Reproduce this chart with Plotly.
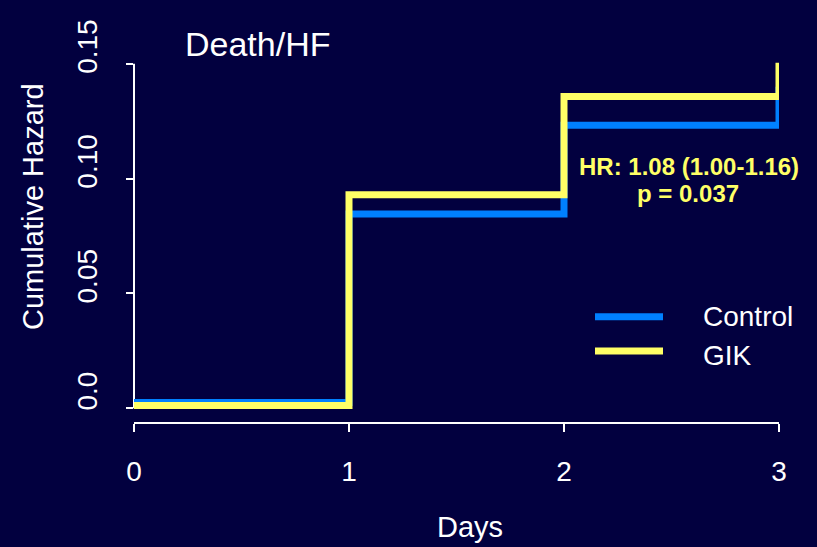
import plotly.graph_objects as go

# ---- data ----
days = [0, 1, 2, 3]
control = [0.0025, 0.0846, 0.1232, 0.140]
gik = [0.0012, 0.0930, 0.1358, 0.1505]
x_ticks = [0, 1, 2, 3]
x_tick_labels = ["0", "1", "2", "3"]
y_ticks = [0.0, 0.05, 0.10, 0.15]
y_tick_labels = ["0.0", "0.05", "0.10", "0.15"]
series_names = ["Control", "GIK"]
title_text = "Death/HF"
hr_lines = ["HR: 1.08 (1.00-1.16)", "p = 0.037"]

BG = "#02003f"
BLUE = "#0080ff"
YELLOW = "#ffff66"
WHITE = "#ffffff"
FONT = "Liberation Sans, Arial, sans-serif"

W, H = 817, 547
L, R, T, B = 134, 38, 50, 125
PW, PH = W - L - R, H - T - B


def px(xp):
    return (xp - L) / PW


def py(yp):
    return 1 - (yp - T) / PH


fig = go.Figure()
fig.add_trace(go.Scatter(x=days, y=control, mode="lines", name=series_names[0],
                         line=dict(color=BLUE, width=7, shape="hv"), showlegend=False))
fig.add_trace(go.Scatter(x=days, y=gik, mode="lines", name=series_names[1],
                         line=dict(color=YELLOW, width=7, shape="hv"), showlegend=False))

shapes = [
    # y axis line (R style, from first to last tick)
    dict(type="line", xref="paper", yref="y", x0=0, x1=0, y0=y_ticks[0], y1=y_ticks[-1],
         line=dict(color=WHITE, width=2), layer="below"),
    # legend samples
    dict(type="line", xref="paper", yref="paper", x0=px(595), x1=px(663), y0=py(316.7), y1=py(316.7),
         line=dict(color=BLUE, width=7)),
    dict(type="line", xref="paper", yref="paper", x0=px(595), x1=px(663), y0=py(351), y1=py(351),
         line=dict(color=YELLOW, width=7)),
]

annotations = [
    dict(text=title_text, xref="paper", yref="paper", x=px(258), y=py(44), showarrow=False,
         xanchor="center", yanchor="middle", font=dict(family=FONT, size=34, color=WHITE)),
    dict(text="Cumulative Hazard", xref="paper", yref="paper", x=px(33), y=py(206), showarrow=False,
         textangle=-90, xanchor="center", yanchor="middle", font=dict(family=FONT, size=29, color=WHITE)),
    dict(text="Days", xref="paper", yref="paper", x=px(470), y=py(527), showarrow=False,
         xanchor="center", yanchor="middle", font=dict(family=FONT, size=29, color=WHITE)),
    dict(text="<b>%s</b>" % hr_lines[0], xref="paper", yref="paper", x=px(689), y=py(166), showarrow=False,
         xanchor="center", yanchor="middle", font=dict(family=FONT, size=24, color=YELLOW)),
    dict(text="<b>%s</b>" % hr_lines[1], xref="paper", yref="paper", x=px(688), y=py(193), showarrow=False,
         xanchor="center", yanchor="middle", font=dict(family=FONT, size=24, color=YELLOW)),
    dict(text=series_names[0], xref="paper", yref="paper", x=px(701), y=py(316), showarrow=False,
         xanchor="left", yanchor="middle", font=dict(family=FONT, size=28, color=WHITE)),
    dict(text=series_names[1], xref="paper", yref="paper", x=px(701), y=py(355), showarrow=False,
         xanchor="left", yanchor="middle", font=dict(family=FONT, size=28, color=WHITE)),
]

fig.update_layout(
    width=W, height=H,
    margin=dict(l=L, r=R, t=T, b=B, pad=0),
    paper_bgcolor=BG, plot_bgcolor=BG,
    font=dict(family=FONT, color=WHITE, size=28),
    shapes=shapes, annotations=annotations,
    showlegend=False,
    xaxis=dict(range=[0, 3], tickvals=x_ticks, ticktext=x_tick_labels, showgrid=False, zeroline=False,
               showline=True, linecolor=WHITE, linewidth=2, ticks="outside", ticklen=8,
               tickwidth=2, tickcolor=WHITE, tickfont=dict(size=28, color=WHITE, family=FONT),
               ticklabelstandoff=15),
    yaxis=dict(range=[-0.006, 0.156], tickvals=y_ticks, ticktext=y_tick_labels, showgrid=False,
               zeroline=False, showline=False, ticks="outside", ticklen=7, tickwidth=2,
               tickcolor=WHITE, tickangle=-90, tickfont=dict(size=28, color=WHITE, family=FONT),
               ticklabelshift=-13, ticklabelstandoff=18),
)

fig.write_html(
    "out.html",
    config={"displayModeBar": False},
    post_script="document.body.style.margin='0';document.body.style.background='%s';"
                "document.body.style.overflow='hidden';" % BG,
)
